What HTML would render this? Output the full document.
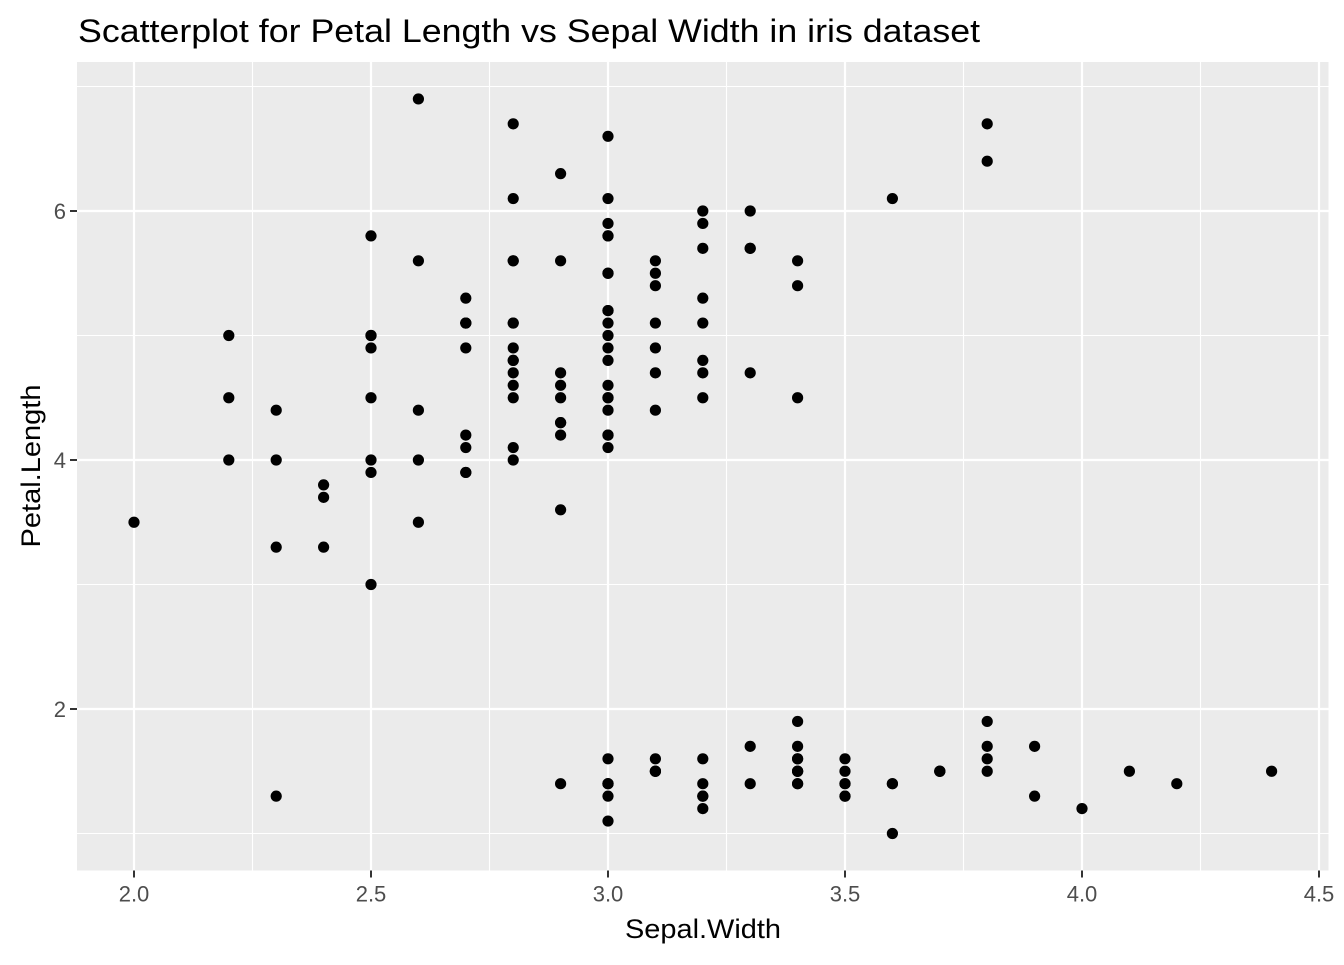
<!DOCTYPE html>
<html><head><meta charset="utf-8"><style>
body{margin:0;background:#fff;font-family:"Liberation Sans",sans-serif}
</style></head><body>
<svg id="chart" width="1344" height="960" xmlns="http://www.w3.org/2000/svg" font-family="Liberation Sans, sans-serif">
<text x="78" y="42" font-size="32" textLength="902" lengthAdjust="spacingAndGlyphs" fill="#000">Scatterplot for Petal Length vs Sepal Width in iris dataset</text>
<rect x="77" y="62" width="1251.5" height="808.5" fill="#ebebeb"/>
<g id="grid"></g><g id="pts"></g><g id="axes"></g>
<text x="703" y="938" font-size="27" textLength="156" lengthAdjust="spacingAndGlyphs" text-anchor="middle">Sepal.Width</text>
<text transform="translate(40,466) rotate(-90)" font-size="27" textLength="163" lengthAdjust="spacingAndGlyphs" text-anchor="middle">Petal.Length</text>
</svg>
<script>
const sepalWidth=[3.5,3.0,3.2,3.1,3.6,3.9,3.4,3.4,2.9,3.1,3.7,3.4,3.0,3.0,4.0,4.4,3.9,3.5,3.8,3.8,3.4,3.7,3.6,3.3,3.4,3.0,3.4,3.5,3.4,3.2,3.1,3.4,4.1,4.2,3.1,3.2,3.5,3.6,3.0,3.4,3.5,2.3,3.2,3.5,3.8,3.0,3.8,3.2,3.7,3.3,
3.2,3.2,3.1,2.3,2.8,2.8,3.3,2.4,2.9,2.7,2.0,3.0,2.2,2.9,2.9,3.1,3.0,2.7,2.2,2.5,3.2,2.8,2.5,2.8,2.9,3.0,2.8,3.0,2.9,2.6,2.4,2.4,2.7,2.7,3.0,3.4,3.1,2.3,3.0,2.5,2.6,3.0,2.6,2.3,2.7,3.0,2.9,2.9,2.5,2.8,
3.3,2.7,3.0,2.9,3.0,3.0,2.5,2.9,2.5,3.6,3.2,2.7,3.0,2.5,2.8,3.2,3.0,3.8,2.6,2.2,3.2,2.8,2.8,2.7,3.3,3.2,2.8,3.0,2.8,3.0,2.8,3.8,2.8,2.8,2.6,3.0,3.4,3.1,3.0,3.1,3.1,3.1,2.7,3.2,3.3,3.0,2.5,3.0,3.4,3.0];
const petalLength=[1.4,1.4,1.3,1.5,1.4,1.7,1.4,1.5,1.4,1.5,1.5,1.6,1.4,1.1,1.2,1.5,1.3,1.4,1.7,1.5,1.7,1.5,1.0,1.7,1.9,1.6,1.6,1.5,1.4,1.6,1.6,1.5,1.5,1.4,1.5,1.2,1.3,1.4,1.3,1.5,1.3,1.3,1.3,1.6,1.9,1.4,1.6,1.4,1.5,1.4,
4.7,4.5,4.9,4.0,4.6,4.5,4.7,3.3,4.6,3.9,3.5,4.2,4.0,4.7,3.6,4.4,4.5,4.1,4.5,3.9,4.8,4.0,4.9,4.7,4.3,4.4,4.8,5.0,4.5,3.5,3.8,3.7,3.9,5.1,4.5,4.5,4.7,4.4,4.1,4.0,4.4,4.6,4.0,3.3,4.2,4.2,4.2,4.3,3.0,4.1,
6.0,5.1,5.9,5.6,5.8,6.6,4.5,6.3,5.8,6.1,5.1,5.3,5.5,5.0,5.1,5.3,5.5,6.7,6.9,5.0,5.7,4.9,6.7,4.9,5.7,6.0,4.8,4.9,5.6,5.8,6.1,6.4,5.6,5.1,5.6,6.1,5.6,5.5,4.8,5.4,5.6,5.1,5.1,5.9,5.7,5.2,5.0,5.2,5.4,5.1];
const xTicks=[2.0,2.5,3.0,3.5,4.0,4.5];
const xTickLabels=["2.0","2.5","3.0","3.5","4.0","4.5"];
const xMinor=[2.25,2.75,3.25,3.75,4.25];
const yTicks=[2,4,6];
const yTickLabels=["2","4","6"];
const yMinor=[1,3,5,7];
const L=77,R=1328.5,T=62,B=870.5;
const xs=v=>134+(v-2.0)*474;
const ys=v=>709-(v-2)*124.5;
const NS="http://www.w3.org/2000/svg";
function mk(tag,attrs,parent){const e=document.createElementNS(NS,tag);for(const k in attrs)e.setAttribute(k,attrs[k]);parent.appendChild(e);return e;}
const grid=document.getElementById('grid'),pts=document.getElementById('pts'),axes=document.getElementById('axes');
xMinor.forEach(v=>{const l=mk('line',{x1:xs(v),x2:xs(v),y1:T,y2:B,stroke:'#fff','stroke-width':1.1},grid);

});
yMinor.forEach(v=>{const y=ys(v);if(y<T||y>B)return;const l=mk('line',{x1:L,x2:R,y1:y,y2:y,stroke:'#fff','stroke-width':1.1},grid);

});
xTicks.forEach((v,i)=>{const x=xs(v);
const g=mk('line',{x1:x,x2:x,y1:T,y2:B,stroke:'#fff','stroke-width':2.2},grid);


const t=mk('line',{x1:x,x2:x,y1:B,y2:B+7,stroke:'#333','stroke-width':2},axes);


const tx=mk('text',{x:x,y:B+31,'font-size':22,'text-anchor':'middle',fill:'#4d4d4d'},axes);tx.textContent=xTickLabels[i];

});
yTicks.forEach((v,i)=>{const y=ys(v);
const g=mk('line',{x1:L,x2:R,y1:y,y2:y,stroke:'#fff','stroke-width':2.2},grid);


const t=mk('line',{x1:L-7,x2:L,y1:y,y2:y,stroke:'#333','stroke-width':2},axes);


const tx=mk('text',{x:L-11,y:y+8,'font-size':22,'text-anchor':'end',fill:'#4d4d4d'},axes);tx.textContent=yTickLabels[i];

});
sepalWidth.forEach((w,i)=>{const c=mk('circle',{cx:xs(w),cy:ys(petalLength[i]),r:5.6,fill:'#000'},pts);

});
</script>
</body></html>
